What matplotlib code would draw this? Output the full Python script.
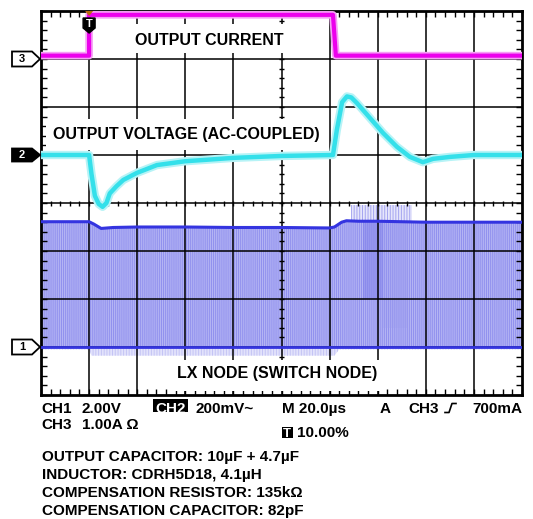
import numpy as np
import matplotlib
matplotlib.use("Agg")
import matplotlib.pyplot as plt
from matplotlib.patches import Polygon, Rectangle
from matplotlib.lines import Line2D

plt.rcParams["font.family"] = ["Liberation Sans", "DejaVu Sans"]
plt.rcParams["font.weight"] = "bold"
plt.rcParams["hatch.linewidth"] = 0.7

# ---- trace data, in screen divisions (x: 0..10, y: 0..8) ----
ch3_t = [0, 1.0, 1.0, 6.07, 6.13, 10]
ch3_div = [7.07, 7.07, 7.92, 7.92, 7.07, 7.07]

ch2_t = [0, 1.0, 1.05, 1.12, 1.2, 1.28, 1.36, 1.43, 1.57, 1.71, 2.0, 2.41, 3.0,
         4.0, 5.0, 6.07, 6.15, 6.26, 6.36, 6.45, 6.57, 6.84, 7.11, 7.40, 7.67,
         7.94, 8.15, 8.5, 9.0, 10]
ch2_div = [5.0, 5.0, 4.6, 4.15, 3.98, 3.92, 4.0, 4.2, 4.35, 4.48, 4.63, 4.79, 4.87,
           4.94, 4.98, 5.0, 5.52, 6.1, 6.22, 6.2, 6.08, 5.77, 5.46, 5.17, 4.96,
           4.85, 4.92, 4.96, 5.0, 5.0]

lx_t = [0, 1.0, 1.1, 1.25, 1.5, 2, 3, 4, 5, 6.0, 6.1, 6.25, 6.35, 6.6, 7, 8, 9, 10]
lx_top = [3.61, 3.61, 3.56, 3.47, 3.49, 3.50, 3.50, 3.49, 3.49, 3.48, 3.50, 3.60,
          3.63, 3.62, 3.62, 3.60, 3.60, 3.60]
lx_base = 1.0
lx_low_t = [0, 1.0, 1.05, 6.1, 6.2, 10]
lx_low = [0.95, 0.95, 0.82, 0.82, 0.95, 0.95]
burst_t = [6.44, 7.71]
burst_peak = 3.96
dense_t = [6.7, 7.1]
dense_low = 2.0
mid_t = [7.1, 7.6]
mid_low = 1.4

ref_levels = {"3": 7.0, "2": 5.0, "1": 1.0}
trigger_t = 1.0

W, H = 533, 519
AX_L, AX_T, AX_R, AX_B = 41, 11, 522, 395


def fx(px):
    return px / W


def fy(py):
    return 1 - py / H


fig = plt.figure(figsize=(W / 100, H / 100), dpi=100)
ax = fig.add_axes([fx(AX_L), fy(AX_B), fx(AX_R - AX_L), (AX_B - AX_T) / H])
ax.set_xlim(0, 10)
ax.set_ylim(0, 8)
div_x = (AX_R - AX_L) / 10
div_y = (AX_B - AX_T) / 8


def dx(px):
    return (px - AX_L) / div_x


def dy(py):
    return (AX_B - py) / div_y


# graticule
for gx in range(1, 10):
    ax.axvline(gx, color="black", lw=1.1, zorder=3)
for gy in range(1, 8):
    ax.axhline(gy, color="black", lw=1.1, zorder=3)
small = np.arange(0, 10.01, 0.2)
ax.vlines(small, 4 - 2.5 / div_y, 4 + 2.5 / div_y, color="black", lw=1.0, zorder=3)
small_y = np.arange(0, 8.01, 0.2)
ax.hlines(small_y, 5 - 2.5 / div_x, 5 + 2.5 / div_x, color="black", lw=1.0, zorder=3)

ax.set_xticks(range(11))
ax.set_yticks(range(9))
ax.set_xticks(np.arange(0, 10.01, 0.2), minor=True)
ax.set_yticks(np.arange(0, 8.01, 0.2), minor=True)
ax.tick_params(which="both", direction="in", top=True, right=True, length=4,
               width=1.0, labelbottom=False, labelleft=False)
for sp in ax.spines.values():
    sp.set_linewidth(2.0)

# LX node switching envelope
ax.fill_between(lx_low_t, lx_low, lx_base, facecolor="#e2e2fb", edgecolor="#c4c4f5",
                hatch="||||||", lw=0, zorder=1)
ax.fill_between(lx_t, lx_base, lx_top, facecolor="#b4b4f4", edgecolor="#9090ee",
                hatch="||||||||", lw=0, zorder=1)
ax.fill_between(burst_t, [3.6, 3.6], [burst_peak, burst_peak], facecolor="#e6e6fb",
                edgecolor="#a4a4f0", hatch="||||||", lw=0, zorder=1)
ax.fill_between(dense_t, [dense_low] * 2, [3.6] * 2, facecolor="#7e7eea", alpha=0.45,
                lw=0, zorder=1)
ax.fill_between(mid_t, [mid_low] * 2, [3.6] * 2, facecolor="#9a9aee", alpha=0.3,
                lw=0, zorder=1)
ax.axhline(lx_base, color="#3434e0", lw=2.0, zorder=4)
ax.plot(lx_t, lx_top, color="#3434e0", lw=2.2, zorder=4)

# output voltage (cyan)
ax.plot(ch2_t, ch2_div, color="#b6f3f6", lw=6.0, zorder=4, solid_capstyle="butt")
ax.plot(ch2_t, ch2_div, color="#34e0ea", lw=3.2, zorder=5)

# output current (magenta)
ax.plot(ch3_t, ch3_div, color="#f5a0f5", lw=5.5, zorder=4, solid_capstyle="butt")
ax.plot(ch3_t, ch3_div, color="#ec00ec", lw=3.0, zorder=5)

# trace labels, each on a white patch that hides the graticule
labels = [("OUTPUT CURRENT", 135, 45, (128, 24, 288, 53)),
          ("OUTPUT VOLTAGE (AC-COUPLED)", 53, 139, (46, 119, 327, 150)),
          ("LX NODE (SWITCH NODE)", 177, 378, (171, 360, 382, 391))]
for txt, x0, base, (l, t, r, b) in labels:
    ax.add_patch(Rectangle((dx(l), dy(b)), dx(r) - dx(l), dy(t) - dy(b),
                           facecolor="white", edgecolor="none", zorder=3.5))
    ax.text(dx(x0), dy(base), txt, fontsize=11.5, fontweight="bold", va="baseline",
            zorder=6)

# channel reference markers
for name, level in ref_levels.items():
    yc = AX_B - level * div_y
    hh = 6.5 if name == "2" else 7.5
    pts = [(12, yc - hh), (32, yc - hh), (40, yc), (32, yc + hh), (12, yc + hh)]
    filled = name == "2"
    poly = Polygon([(fx(a), fy(b)) for a, b in pts], closed=True, transform=fig.transFigure,
                   facecolor="black" if filled else "white", edgecolor="black", lw=1.3)
    fig.add_artist(poly)
    fig.text(fx(22), fy(yc), name, fontsize=8, fontweight="bold", ha="center",
             va="center", color="white" if filled else "black")

# trigger marker
tx = AX_L + trigger_t * div_x
tpts = [(tx - 6, 18), (tx + 6, 18), (tx + 6, 28), (tx, 33), (tx - 6, 28)]
fig.add_artist(Polygon([(fx(a), fy(b)) for a, b in tpts], closed=True,
                       transform=fig.transFigure, facecolor="black", edgecolor="black"))
opts = [(tx - 4, 11), (tx + 4, 11), (tx, 16)]
fig.add_artist(Polygon([(fx(a), fy(b)) for a, b in opts], closed=True,
                       transform=fig.transFigure, facecolor="#b86a10", edgecolor="none"))
fig.text(fx(tx), fy(24), "T", fontsize=8, fontweight="bold", ha="center", va="center",
         color="white")

# readout
fs = 11
rd = dict(fontsize=fs, fontweight="bold", va="baseline")
fig.text(fx(41.5), fy(413), "CH1", **rd)
fig.text(fx(82), fy(413), "2.00V", **rd)
fig.add_artist(Rectangle((fx(153), fy(411.5)), fx(35), 12.5 / H, transform=fig.transFigure,
                         facecolor="black", edgecolor="none"))
fig.text(fx(170.5), fy(413), "CH2", ha="center", color="white", **rd)
fig.text(fx(196), fy(413), "200mV~", **rd)
fig.text(fx(282), fy(413), "M 20.0µs", **rd)
fig.text(fx(380), fy(413), "A", **rd)
fig.text(fx(408), fy(413), "CH3", **rd)
fig.add_artist(Line2D([fx(445), fx(449), fx(452), fx(456)],
                      [fy(412.5), fy(412.5), fy(403.5), fy(403.5)],
                      transform=fig.transFigure, color="black", lw=1.2))
fig.text(fx(522), fy(413), "700mA", ha="right", **rd)
fig.text(fx(41.5), fy(429), "CH3", **rd)
fig.text(fx(82), fy(429), "1.00A Ω", **rd)
fig.add_artist(Rectangle((fx(282), fy(438)), fx(10.5), 11.5 / H, transform=fig.transFigure,
                         facecolor="black", edgecolor="none"))
fig.text(fx(287.3), fy(437), "T", fontsize=fs - 1.5, fontweight="bold", va="baseline",
         ha="center", color="white")
fig.text(fx(297), fy(437), "10.00%", **rd)

notes = ["OUTPUT CAPACITOR: 10µF + 4.7µF",
         "INDUCTOR: CDRH5D18, 4.1µH",
         "COMPENSATION RESISTOR: 135kΩ",
         "COMPENSATION CAPACITOR: 82pF"]
for i, line in enumerate(notes):
    fig.text(fx(41.5), fy(460.7 + i * 18.1), line, **rd)

fig.savefig("out.png", dpi=100)
